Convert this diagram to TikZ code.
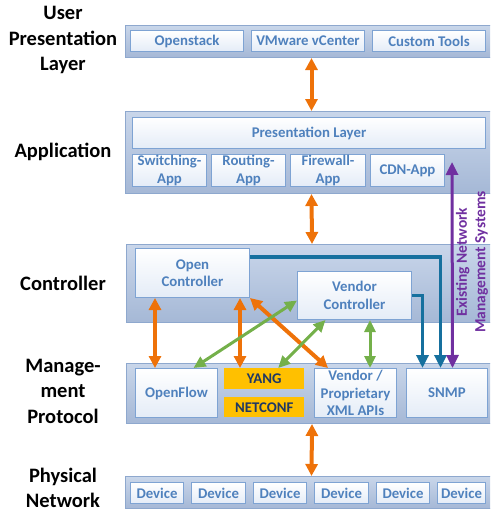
\documentclass[tikz,border=0pt]{standalone}
\usepackage{fontspec}
\setmainfont{Carlito}
\usetikzlibrary{arrows.meta}

\definecolor{bandtop}{HTML}{C9D6EA}
\definecolor{bandbot}{HTML}{A5B8D6}
\definecolor{bandline}{HTML}{8EA8CE}
\definecolor{boxline}{HTML}{7EA3D3}
\definecolor{boxbot}{HTML}{E4ECF7}
\definecolor{boxtext}{HTML}{4F81BD}
\definecolor{yangfill}{HTML}{FFC000}
\definecolor{yangtext}{HTML}{1F3864}
\definecolor{orangearr}{HTML}{EE7209}
\definecolor{greenarr}{HTML}{74B04A}
\definecolor{bluearr}{HTML}{16709E}
\definecolor{purplearr}{HTML}{7030A0}

\tikzset{
   band/.style={draw=bandline, line width=1pt, top color=bandtop,
      bottom color=bandbot, anchor=north west, inner sep=0pt},
   ibox/.style={draw=boxline, line width=1pt, top color=white,
      bottom color=boxbot, anchor=north west, inner sep=0pt,
      text=boxtext, align=center,
      font=\fontsize{14.8}{17.5}\selectfont\bfseries},
   ybox/.style={fill=yangfill, anchor=north west, inner sep=0pt,
      text=yangtext, font=\fontsize{14.8}{17.5}\selectfont\bfseries},
   lbl/.style={align=center, font=\fontsize{20.5}{25.5}\selectfont\bfseries},
   oarr/.style={orangearr, line width=4pt,
      {Triangle[width=12pt,length=12pt]}-{Triangle[width=12pt,length=12pt]}},
   garr/.style={greenarr, line width=3pt,
      {Triangle[width=11pt,length=12pt]}-{Triangle[width=11pt,length=12pt]}},
   barr/.style={bluearr, line width=3.5pt, -{Triangle[width=12pt,length=13pt]}},
   parr/.style={purplearr, line width=3pt,
      {Triangle[width=12pt,length=13pt]}-{Triangle[width=12pt,length=13pt]}}
}

\begin{document}
\begin{tikzpicture}[x=1pt, y=-1pt]
   \useasboundingbox (0,0) rectangle (490,514);
   \clip (0,0) rectangle (490,514);

   \node[lbl] (l1) at (63,40) {User\\Presentation\\Layer};
   \node[lbl] (l2) at (63,152) {Application};
   \node[lbl] (l3) at (63,283) {Controller};
   \node[lbl] (l4) at (63,391) {Manage-\\ment\\Protocol};
   \node[lbl] (l5) at (63,488) {Physical\\Network};

   \node[band, minimum width=372, minimum height=32] (upl) at (125,25) {};
   \node[ibox, minimum width=113, minimum height=21] (os) at (130,30) {Openstack};
   \node[ibox, minimum width=113, minimum height=21] (vm) at (251,30) {VMware vCenter};
   \node[ibox, minimum width=113, minimum height=21] (ct) at (372,30) {Custom Tools};

   \node[band, minimum width=372, minimum height=82] (app) at (125,111) {};
   \node[ibox, minimum width=353, minimum height=31] (pl) at (132,117) {Presentation Layer};
   \node[ibox, minimum width=74, minimum height=32] (sw) at (132,154) {Switching-\\App};
   \node[ibox, minimum width=74, minimum height=32] (rt) at (211,154) {Routing-\\App};
   \node[ibox, minimum width=75, minimum height=32] (fw) at (290,154) {Firewall-\\App};
   \node[ibox, minimum width=74, minimum height=32] (cdn) at (370,154) {CDN-App};

   \node[band, minimum width=371, minimum height=78] (ctl) at (126,244) {};
   \node[ibox, minimum width=114, minimum height=49] (oc) at (135,248) {Open\\Controller};
   \node[ibox, minimum width=114, minimum height=48] (vc) at (297,271) {Vendor\\Controller};

   \node[band, minimum width=371, minimum height=60] (mgt) at (126,363) {};
   \node[ibox, minimum width=82, minimum height=49] (of) at (135,368) {OpenFlow};
   \node[ybox, minimum width=80, minimum height=21] (yang) at (224,368) {YANG};
   \node[ybox, minimum width=80, minimum height=20] (netconf) at (224,397) {NETCONF};
   \node[ibox, minimum width=82, minimum height=49] (vx) at (314,368) {Vendor /\\Proprietary\\XML APIs};
   \node[ibox, minimum width=81, minimum height=49] (snmp) at (406,368) {SNMP};

   \node[band, minimum width=372, minimum height=32] (phy) at (125,476) {};
   \foreach \x/\w [count=\i] in {130/53,191/54,253/53,314/54,376/53,437/48}
      \node[ibox, minimum width=\w, minimum height=21] (dev\i) at (\x,482) {Device};

   \draw[oarr] (upl.south) -- (app.north);
   \draw[oarr] (app.south) -- (ctl.north);
   \draw[oarr] (mgt.south) -- (phy.north);

   \draw[oarr] (oc.south -| 155,0) -- (of.north -| 155,0);
   \draw[oarr] (oc.south -| 240,0) -- (yang.north -| 240,0);
   \draw[oarr] (oc.south east) -- ([xshift=14pt]vx.north west);

   \draw[garr] ([yshift=-5pt]vc.west) -- ([xshift=17pt]of.north);
   \draw[garr] ([xshift=-29pt]vc.south) -- ([xshift=14pt]yang.north);
   \draw[garr] (vc.south -| 370,0) -- (vx.north -| 370,0);

   \draw[barr] ([yshift=16pt]oc.east) -| ([xshift=-6.5pt]snmp.north);
   \draw[barr] (vc.east) -| ([xshift=-24.5pt]snmp.north);

   \coordinate (ems) at (452,162);
   \draw[parr] ([xshift=5.5pt]snmp.north) -- (ems);
   \node[rotate=90, align=center, text=purplearr,
      font=\fontsize{15.5}{18.5}\selectfont\bfseries] (emslbl) at (472,262)
      {Existing Network\\Management Systems};
\end{tikzpicture}
\end{document}
